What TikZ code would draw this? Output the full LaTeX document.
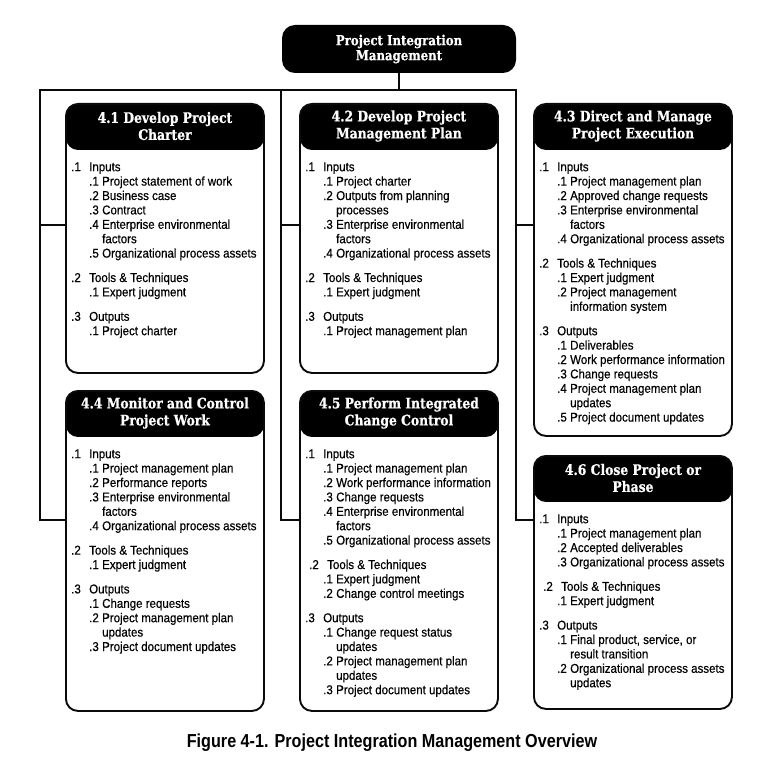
\documentclass[tikz,border=0pt]{standalone}
\usepackage{fontspec}
\setmainfont{Liberation Sans}
\newfontfamily\bodyfont[FakeStretch=0.9,FakeBold=0.4]{Liberation Sans}
\newfontfamily\headfont[FakeStretch=0.85,FakeBold=0.6]{DejaVu Serif}
\newfontfamily\captfont[FakeStretch=0.86]{Liberation Sans}
\usepackage{xcolor}
\usepackage{tikz}
\usetikzlibrary{calc}
\definecolor{boxedge}{RGB}{10,10,10}
\definecolor{headfill}{RGB}{0,0,0}

% list lines inside the process boxes
\newcommand{\pgrp}[2]{\makebox[18pt][l]{#1}#2}
\newcommand{\pgrs}[2]{\hspace*{4pt}\makebox[18pt][l]{#1}#2}
\newcommand{\pitm}[2]{\hspace*{18pt}\makebox[13pt][l]{#1}#2}
\newcommand{\pcnt}[1]{\hspace*{31pt}#1}

\begin{document}
\begin{tikzpicture}[x=1pt,y=1pt,every node/.style={inner sep=0pt},
    procbox/.style={draw=boxedge,line width=1.9pt,rounded corners=12pt,fill=white,
      anchor=north west,minimum width=198pt,minimum height=#1,
      path picture={\fill[headfill] (path picture bounding box.north west)
        rectangle ([yshift=-46pt]path picture bounding box.north east);}},
    proctitle/.style={text=white,align=center,font=\headfont\bfseries\fontsize{14.5}{17}\selectfont},
    procbody/.style={anchor=north west,align=left,font=\bodyfont\fontsize{12.8}{14.4}\selectfont},
    wire/.style={draw=boxedge,line width=1.9pt}]

    \useasboundingbox (0,0) rectangle (768,-783);

    % Top box
    \node[fill=headfill,rounded corners=13pt,minimum width=234pt,minimum height=48pt,
      text=white,align=center,font=\headfont\bfseries\fontsize{13.8}{15}\selectfont]
      (top) at (399,-49) {Project Integration\\Management};

    % 4.1
    \node[procbox=269pt] (p41) at (65,-103) {};
    \node[proctitle] (t41) at ([yshift=-23pt]p41.north) {4.1 Develop Project\\Charter};
    \node[procbody] (b41) at ([xshift=6pt,yshift=-58pt]p41.north west) {\rule{0pt}{10pt}\pgrp{.1}{Inputs}\\
      \pitm{.1}{Project statement of work}\\
      \pitm{.2}{Business case}\\
      \pitm{.3}{Contract}\\
      \pitm{.4}{Enterprise environmental}\\
      \pcnt{factors}\\
      \pitm{.5}{Organizational process assets}\\[10pt]
      \pgrp{.2}{Tools \& Techniques}\\
      \pitm{.1}{Expert judgment}\\[10pt]
      \pgrp{.3}{Outputs}\\
      \pitm{.1}{Project charter}};

    % 4.2
    \node[procbox=269pt] (p42) at (299,-103) {};
    \node[proctitle] (t42) at ([yshift=-23pt]p42.north) {4.2 Develop Project\\Management Plan};
    \node[procbody] (b42) at ([xshift=6pt,yshift=-58pt]p42.north west) {\rule{0pt}{10pt}\pgrp{.1}{Inputs}\\
      \pitm{.1}{Project charter}\\
      \pitm{.2}{Outputs from planning}\\
      \pcnt{processes}\\
      \pitm{.3}{Enterprise environmental}\\
      \pcnt{factors}\\
      \pitm{.4}{Organizational process assets}\\[10pt]
      \pgrp{.2}{Tools \& Techniques}\\
      \pitm{.1}{Expert judgment}\\[10pt]
      \pgrp{.3}{Outputs}\\
      \pitm{.1}{Project management plan}};

    % 4.3
    \node[procbox=332pt] (p43) at (533,-103) {};
    \node[proctitle] (t43) at ([yshift=-23pt]p43.north) {4.3 Direct and Manage\\Project Execution};
    \node[procbody] (b43) at ([xshift=6pt,yshift=-58pt]p43.north west) {\rule{0pt}{10pt}\pgrp{.1}{Inputs}\\
      \pitm{.1}{Project management plan}\\
      \pitm{.2}{Approved change requests}\\
      \pitm{.3}{Enterprise environmental}\\
      \pcnt{factors}\\
      \pitm{.4}{Organizational process assets}\\[10pt]
      \pgrp{.2}{Tools \& Techniques}\\
      \pitm{.1}{Expert judgment}\\
      \pitm{.2}{Project management}\\
      \pcnt{information system}\\[10pt]
      \pgrp{.3}{Outputs}\\
      \pitm{.1}{Deliverables}\\
      \pitm{.2}{Work performance information}\\
      \pitm{.3}{Change requests}\\
      \pitm{.4}{Project management plan}\\
      \pcnt{updates}\\
      \pitm{.5}{Project document updates}};

    % 4.4
    \node[procbox=320pt] (p44) at (65,-390) {};
    \node[proctitle] (t44) at ([yshift=-23pt]p44.north) {4.4 Monitor and Control\\Project Work};
    \node[procbody] (b44) at ([xshift=6pt,yshift=-58pt]p44.north west) {\rule{0pt}{10pt}\pgrp{.1}{Inputs}\\
      \pitm{.1}{Project management plan}\\
      \pitm{.2}{Performance reports}\\
      \pitm{.3}{Enterprise environmental}\\
      \pcnt{factors}\\
      \pitm{.4}{Organizational process assets}\\[10pt]
      \pgrp{.2}{Tools \& Techniques}\\
      \pitm{.1}{Expert judgment}\\[10pt]
      \pgrp{.3}{Outputs}\\
      \pitm{.1}{Change requests}\\
      \pitm{.2}{Project management plan}\\
      \pcnt{updates}\\
      \pitm{.3}{Project document updates}};

    % 4.5
    \node[procbox=320pt] (p45) at (299,-390) {};
    \node[proctitle] (t45) at ([yshift=-23pt]p45.north) {4.5 Perform Integrated\\Change Control};
    \node[procbody] (b45) at ([xshift=6pt,yshift=-58pt]p45.north west) {\rule{0pt}{10pt}\pgrp{.1}{Inputs}\\
      \pitm{.1}{Project management plan}\\
      \pitm{.2}{Work performance information}\\
      \pitm{.3}{Change requests}\\
      \pitm{.4}{Enterprise environmental}\\
      \pcnt{factors}\\
      \pitm{.5}{Organizational process assets}\\[10pt]
      \pgrs{.2}{Tools \& Techniques}\\
      \pitm{.1}{Expert judgment}\\
      \pitm{.2}{Change control meetings}\\[10pt]
      \pgrp{.3}{Outputs}\\
      \pitm{.1}{Change request status}\\
      \pcnt{updates}\\
      \pitm{.2}{Project management plan}\\
      \pcnt{updates}\\
      \pitm{.3}{Project document updates}};

    % 4.6
    \node[procbox=253pt] (p46) at (533,-455) {};
    \node[proctitle] (t46) at ([yshift=-23pt]p46.north) {4.6 Close Project or\\Phase};
    \node[procbody] (b46) at ([xshift=6pt,yshift=-58pt]p46.north west) {\rule{0pt}{10pt}\pgrp{.1}{Inputs}\\
      \pitm{.1}{Project management plan}\\
      \pitm{.2}{Accepted deliverables}\\
      \pitm{.3}{Organizational process assets}\\[10pt]
      \pgrs{.2}{Tools \& Techniques}\\
      \pitm{.1}{Expert judgment}\\[10pt]
      \pgrp{.3}{Outputs}\\
      \pitm{.1}{Final product, service, or}\\
      \pcnt{result transition}\\
      \pitm{.2}{Organizational process assets}\\
      \pcnt{updates}};

    % Bus lines
    \coordinate (busL) at (40,-90);
    \coordinate (busM) at (281,-90);
    \coordinate (busR) at (516,-90);
    \coordinate (in41) at ([yshift=-122pt]p41.north west);
    \coordinate (in42) at ([yshift=-122pt]p42.north west);
    \coordinate (in43) at ([yshift=-122pt]p43.north west);
    \coordinate (in44) at ([yshift=-130pt]p44.north west);
    \coordinate (in45) at ([yshift=-130pt]p45.north west);
    \coordinate (in46) at ([yshift=-65pt]p46.north west);

    \draw[wire] (top.south) -- (top.south |- busL);
    \draw[wire] (in44) -| (busL) -- (busR) |- (in46);
    \draw[wire] (busM) |- (in45);
    \draw[wire] (busL |- in41) -- (in41);
    \draw[wire] (busM |- in42) -- (in42);
    \draw[wire] (busR |- in43) -- (in43);

    % Caption
    \node[font=\captfont\bfseries\fontsize{18.8}{22}\selectfont] (capt) at (392,-743)
      {Figure 4-1. Project Integration Management Overview};

\end{tikzpicture}
\end{document}
